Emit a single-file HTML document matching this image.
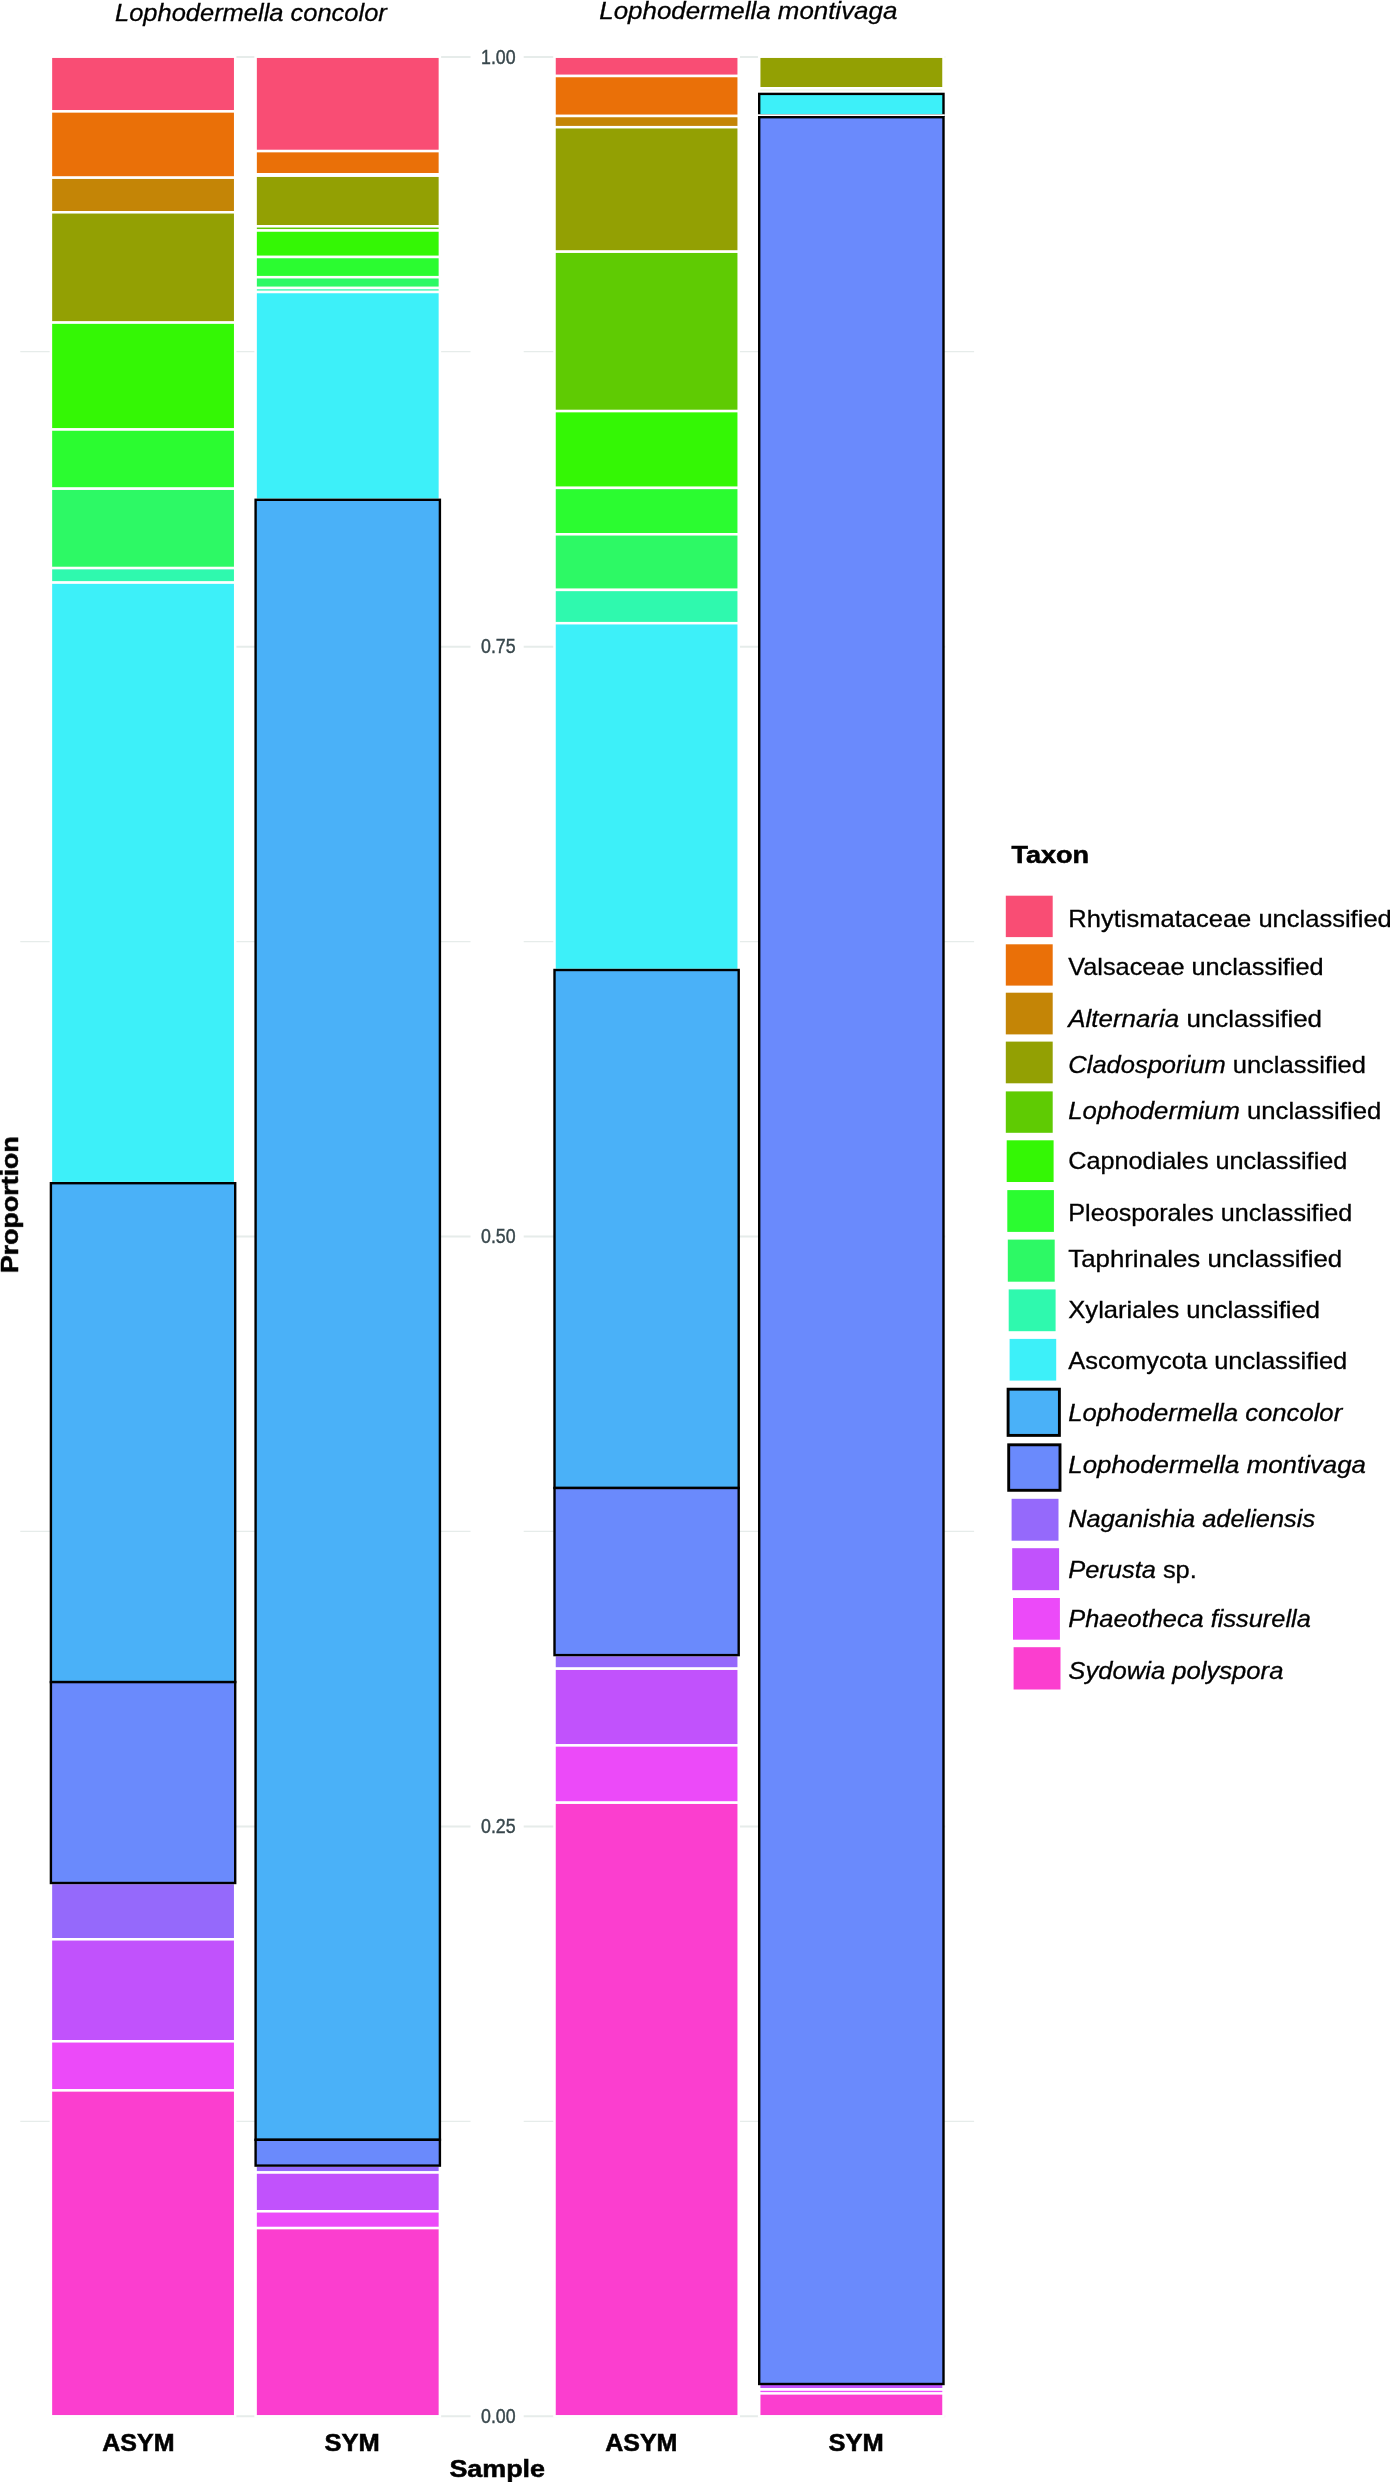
<!DOCTYPE html>
<html><head><meta charset="utf-8"><title>Taxon proportion chart</title>
<style>
html,body{margin:0;padding:0;background:#fff;}
body{width:1390px;height:2482px;overflow:hidden;font-family:"Liberation Sans",sans-serif;}
svg{display:block;}
</style></head><body>
<svg width="1390" height="2482" viewBox="0 0 1390 2482">
<rect width="1390" height="2482" fill="#fff"/>
<line x1="51.5" x2="470.5" y1="56.9" y2="56.9" stroke="#e6ecea" stroke-width="2"/>
<line x1="523.7" x2="945.2" y1="56.9" y2="56.9" stroke="#e6ecea" stroke-width="2"/>
<line x1="51.5" x2="470.5" y1="646.8" y2="646.8" stroke="#e6ecea" stroke-width="2"/>
<line x1="523.7" x2="945.2" y1="646.8" y2="646.8" stroke="#e6ecea" stroke-width="2"/>
<line x1="51.5" x2="470.5" y1="1236.6" y2="1236.6" stroke="#e6ecea" stroke-width="2"/>
<line x1="523.7" x2="945.2" y1="1236.6" y2="1236.6" stroke="#e6ecea" stroke-width="2"/>
<line x1="51.5" x2="470.5" y1="1826.5" y2="1826.5" stroke="#e6ecea" stroke-width="2"/>
<line x1="523.7" x2="945.2" y1="1826.5" y2="1826.5" stroke="#e6ecea" stroke-width="2"/>
<line x1="51.5" x2="470.5" y1="2416.3" y2="2416.3" stroke="#e6ecea" stroke-width="2"/>
<line x1="523.7" x2="945.2" y1="2416.3" y2="2416.3" stroke="#e6ecea" stroke-width="2"/>
<line x1="20.3" x2="470.5" y1="351.7" y2="351.7" stroke="#e6ecea" stroke-width="1.2"/>
<line x1="523.7" x2="974.1" y1="351.7" y2="351.7" stroke="#e6ecea" stroke-width="1.2"/>
<line x1="20.3" x2="470.5" y1="941.6" y2="941.6" stroke="#e6ecea" stroke-width="1.2"/>
<line x1="523.7" x2="974.1" y1="941.6" y2="941.6" stroke="#e6ecea" stroke-width="1.2"/>
<line x1="20.3" x2="470.5" y1="1531.4" y2="1531.4" stroke="#e6ecea" stroke-width="1.2"/>
<line x1="523.7" x2="974.1" y1="1531.4" y2="1531.4" stroke="#e6ecea" stroke-width="1.2"/>
<line x1="20.3" x2="470.5" y1="2121.3" y2="2121.3" stroke="#e6ecea" stroke-width="1.2"/>
<line x1="523.7" x2="974.1" y1="2121.3" y2="2121.3" stroke="#e6ecea" stroke-width="1.2"/>
<rect x="50.9" y="56.7" width="184.3" height="54.7" fill="#F94D74" stroke="#fff" stroke-width="2.5"/>
<rect x="50.9" y="111.4" width="184.3" height="66.3" fill="#EA7008" stroke="#fff" stroke-width="2.5"/>
<rect x="50.9" y="177.7" width="184.3" height="34.6" fill="#C48506" stroke="#fff" stroke-width="2.5"/>
<rect x="50.9" y="212.3" width="184.3" height="110.3" fill="#93A003" stroke="#fff" stroke-width="2.5"/>
<rect x="50.9" y="322.6" width="184.3" height="106.9" fill="#34F705" stroke="#fff" stroke-width="2.5"/>
<rect x="50.9" y="429.5" width="184.3" height="59.2" fill="#2BFC30" stroke="#fff" stroke-width="2.5"/>
<rect x="50.9" y="488.7" width="184.3" height="79.4" fill="#2DF965" stroke="#fff" stroke-width="2.5"/>
<rect x="50.9" y="568.1" width="184.3" height="14.5" fill="#2FF9AE" stroke="#fff" stroke-width="2.5"/>
<rect x="50.9" y="582.6" width="184.3" height="600.6" fill="#3DF0F9" stroke="#fff" stroke-width="2.5"/>
<rect x="50.9" y="1883.0" width="184.3" height="56.3" fill="#9569FB" stroke="#fff" stroke-width="2.5"/>
<rect x="50.9" y="1939.3" width="184.3" height="102.0" fill="#C152FC" stroke="#fff" stroke-width="2.5"/>
<rect x="50.9" y="2041.3" width="184.3" height="49.1" fill="#EC4AF9" stroke="#fff" stroke-width="2.5"/>
<rect x="50.9" y="2090.4" width="184.3" height="325.9" fill="#FB3ECF" stroke="#fff" stroke-width="2.5"/>
<rect x="255.6" y="56.7" width="184.3" height="94.4" fill="#F94D74" stroke="#fff" stroke-width="2.5"/>
<rect x="255.6" y="151.1" width="184.3" height="23.2" fill="#EA7008" stroke="#fff" stroke-width="2.5"/>
<rect x="255.6" y="174.3" width="184.3" height="1.4" fill="#C48506" stroke="#fff" stroke-width="2.5"/>
<rect x="255.6" y="175.7" width="184.3" height="50.6" fill="#93A003" stroke="#fff" stroke-width="2.5"/>
<rect x="255.6" y="226.3" width="184.3" height="4.2" fill="#5FCB03" stroke="#fff" stroke-width="2.5"/>
<rect x="255.6" y="230.5" width="184.3" height="26.5" fill="#34F705" stroke="#fff" stroke-width="2.5"/>
<rect x="255.6" y="257.0" width="184.3" height="20.2" fill="#2BFC30" stroke="#fff" stroke-width="2.5"/>
<rect x="255.6" y="277.2" width="184.3" height="10.8" fill="#2DF965" stroke="#fff" stroke-width="2.5"/>
<rect x="255.6" y="288.0" width="184.3" height="4.0" fill="#2FF9AE" stroke="#fff" stroke-width="2.5"/>
<rect x="255.6" y="292.0" width="184.3" height="207.8" fill="#3DF0F9" stroke="#fff" stroke-width="2.5"/>
<rect x="255.6" y="2165.6" width="184.3" height="6.9" fill="#9569FB" stroke="#fff" stroke-width="2.5"/>
<rect x="255.6" y="2172.5" width="184.3" height="38.8" fill="#C152FC" stroke="#fff" stroke-width="2.5"/>
<rect x="255.6" y="2211.3" width="184.3" height="16.8" fill="#EC4AF9" stroke="#fff" stroke-width="2.5"/>
<rect x="255.6" y="2228.1" width="184.3" height="188.2" fill="#FB3ECF" stroke="#fff" stroke-width="2.5"/>
<rect x="554.5" y="56.7" width="184.2" height="19.3" fill="#F94D74" stroke="#fff" stroke-width="2.5"/>
<rect x="554.5" y="76.0" width="184.2" height="40.0" fill="#EA7008" stroke="#fff" stroke-width="2.5"/>
<rect x="554.5" y="116.0" width="184.2" height="11.2" fill="#C48506" stroke="#fff" stroke-width="2.5"/>
<rect x="554.5" y="127.2" width="184.2" height="124.5" fill="#93A003" stroke="#fff" stroke-width="2.5"/>
<rect x="554.5" y="251.7" width="184.2" height="159.4" fill="#5FCB03" stroke="#fff" stroke-width="2.5"/>
<rect x="554.5" y="411.1" width="184.2" height="76.8" fill="#34F705" stroke="#fff" stroke-width="2.5"/>
<rect x="554.5" y="487.9" width="184.2" height="46.4" fill="#2BFC30" stroke="#fff" stroke-width="2.5"/>
<rect x="554.5" y="534.3" width="184.2" height="55.6" fill="#2DF965" stroke="#fff" stroke-width="2.5"/>
<rect x="554.5" y="589.9" width="184.2" height="33.3" fill="#2FF9AE" stroke="#fff" stroke-width="2.5"/>
<rect x="554.5" y="623.2" width="184.2" height="346.8" fill="#3DF0F9" stroke="#fff" stroke-width="2.5"/>
<rect x="554.5" y="1655.1" width="184.2" height="13.6" fill="#9569FB" stroke="#fff" stroke-width="2.5"/>
<rect x="554.5" y="1668.7" width="184.2" height="76.7" fill="#C152FC" stroke="#fff" stroke-width="2.5"/>
<rect x="554.5" y="1745.4" width="184.2" height="57.3" fill="#EC4AF9" stroke="#fff" stroke-width="2.5"/>
<rect x="554.5" y="1802.7" width="184.2" height="613.6" fill="#FB3ECF" stroke="#fff" stroke-width="2.5"/>
<rect x="759.2" y="56.7" width="184.3" height="31.6" fill="#93A003" stroke="#fff" stroke-width="2.5"/>
<rect x="759.2" y="88.3" width="184.3" height="2.3" fill="#5FCB03" stroke="#fff" stroke-width="2.5"/>
<rect x="759.2" y="2393.4" width="184.3" height="22.9" fill="#FB3ECF" stroke="#fff" stroke-width="2.5"/>
<rect x="759.2" y="93.9" width="184.3" height="21.4" fill="#3DF0F9" stroke="#000" stroke-width="2.4"/>
<line x1="757.9000000000001" x2="944.8" y1="115.2" y2="115.2" stroke="#fff" stroke-width="1.8"/>
<rect x="760.4000000000001" y="2384" width="181.9" height="4.0" fill="#C152FC"/>
<rect x="760.4000000000001" y="2390.8" width="181.9" height="1.3" fill="#EC4AF9"/>
<rect x="760.4000000000001" y="89.6" width="181.9" height="0.8" fill="#5FCB03" opacity="0.18"/>
<rect x="759.2" y="117.2" width="184.3" height="2266.8" fill="#6A8AFC" stroke="#000" stroke-width="2.4"/>
<rect x="50.9" y="1183.2" width="184.3" height="498.9" fill="#4AB1F8" stroke="#000" stroke-width="2.4"/>
<rect x="50.9" y="1682.1" width="184.3" height="200.9" fill="#6A8AFC" stroke="#000" stroke-width="2.4"/>
<rect x="255.6" y="499.8" width="184.3" height="1640.0" fill="#4AB1F8" stroke="#000" stroke-width="2.4"/>
<rect x="255.6" y="2139.8" width="184.3" height="25.8" fill="#6A8AFC" stroke="#000" stroke-width="2.4"/>
<rect x="554.5" y="970.0" width="184.2" height="518.0" fill="#4AB1F8" stroke="#000" stroke-width="2.4"/>
<rect x="554.5" y="1488.0" width="184.2" height="167.1" fill="#6A8AFC" stroke="#000" stroke-width="2.4"/>
<g opacity="0.999">
<text x="115.0" y="20.7" font-family="Liberation Sans, sans-serif" font-size="23.6" fill="#000" font-style="italic" stroke="#000" stroke-width="0.3" textLength="271.8" lengthAdjust="spacingAndGlyphs" >Lophodermella concolor</text>
<text x="599.3" y="18.7" font-family="Liberation Sans, sans-serif" font-size="23.6" fill="#000" font-style="italic" stroke="#000" stroke-width="0.3" textLength="298.0" lengthAdjust="spacingAndGlyphs" >Lophodermella montivaga</text>
<text x="481.0" y="63.5" font-family="Liberation Sans, sans-serif" font-size="19.3" fill="#38474c" textLength="34.6" lengthAdjust="spacingAndGlyphs" stroke="#38474c" stroke-width="0.4">1.00</text>
<text x="481.0" y="653.4" font-family="Liberation Sans, sans-serif" font-size="19.3" fill="#38474c" textLength="34.6" lengthAdjust="spacingAndGlyphs" stroke="#38474c" stroke-width="0.4">0.75</text>
<text x="481.0" y="1243.2" font-family="Liberation Sans, sans-serif" font-size="19.3" fill="#38474c" textLength="34.6" lengthAdjust="spacingAndGlyphs" stroke="#38474c" stroke-width="0.4">0.50</text>
<text x="481.0" y="1833.1" font-family="Liberation Sans, sans-serif" font-size="19.3" fill="#38474c" textLength="34.6" lengthAdjust="spacingAndGlyphs" stroke="#38474c" stroke-width="0.4">0.25</text>
<text x="481.0" y="2422.9" font-family="Liberation Sans, sans-serif" font-size="19.3" fill="#38474c" textLength="34.6" lengthAdjust="spacingAndGlyphs" stroke="#38474c" stroke-width="0.4">0.00</text>
<text x="102.3" y="2450.9" font-family="Liberation Sans, sans-serif" font-size="24.0" fill="#000" font-weight="bold" stroke="#000" stroke-width="0.55" textLength="72.2" lengthAdjust="spacingAndGlyphs" >ASYM</text>
<text x="324.6" y="2450.9" font-family="Liberation Sans, sans-serif" font-size="24.0" fill="#000" font-weight="bold" stroke="#000" stroke-width="0.55" textLength="55.2" lengthAdjust="spacingAndGlyphs" >SYM</text>
<text x="605.2" y="2451.1" font-family="Liberation Sans, sans-serif" font-size="24.0" fill="#000" font-weight="bold" stroke="#000" stroke-width="0.55" textLength="72.2" lengthAdjust="spacingAndGlyphs" >ASYM</text>
<text x="828.6" y="2451.1" font-family="Liberation Sans, sans-serif" font-size="24.0" fill="#000" font-weight="bold" stroke="#000" stroke-width="0.55" textLength="55.2" lengthAdjust="spacingAndGlyphs" >SYM</text>
<text x="449.4" y="2476.8" font-family="Liberation Sans, sans-serif" font-size="24.0" fill="#000" font-weight="bold" stroke="#000" stroke-width="0.55" textLength="95.6" lengthAdjust="spacingAndGlyphs" >Sample</text>
<text transform="translate(18.0,1273.1) rotate(-90)" font-family="Liberation Sans, sans-serif" font-size="24.0" font-weight="bold" stroke="#000" stroke-width="0.55" textLength="136.8" lengthAdjust="spacingAndGlyphs">Proportion</text>
<text x="1011.4" y="863.2" font-family="Liberation Sans, sans-serif" font-size="24.0" fill="#000" font-weight="bold" stroke="#000" stroke-width="0.55" textLength="77.6" lengthAdjust="spacingAndGlyphs" >Taxon</text>
<rect x="1005.8" y="895.7" width="46.9" height="41.4" fill="#F94D74"/>
<text x="1068.3" y="926.5" font-family="Liberation Sans, sans-serif" font-size="23.6" fill="#000" stroke="#000" stroke-width="0.3" textLength="323.5" lengthAdjust="spacingAndGlyphs" >Rhytismataceae unclassified</text>
<rect x="1005.8" y="944.3" width="46.9" height="41.3" fill="#EA7008"/>
<text x="1068.3" y="975.4" font-family="Liberation Sans, sans-serif" font-size="23.6" fill="#000" stroke="#000" stroke-width="0.3" textLength="255.2" lengthAdjust="spacingAndGlyphs" >Valsaceae unclassified</text>
<rect x="1005.8" y="992.7" width="46.9" height="41.7" fill="#C48506"/>
<text x="1068.3" y="1026.9" font-family="Liberation Sans, sans-serif" font-size="23.6" fill="#000" stroke="#000" stroke-width="0.3" textLength="253.7" lengthAdjust="spacingAndGlyphs" ><tspan font-style='italic'>Alternaria</tspan> unclassified</text>
<rect x="1005.8" y="1041.6" width="46.9" height="41.7" fill="#93A003"/>
<text x="1068.3" y="1072.8" font-family="Liberation Sans, sans-serif" font-size="23.6" fill="#000" stroke="#000" stroke-width="0.3" textLength="297.7" lengthAdjust="spacingAndGlyphs" ><tspan font-style='italic'>Cladosporium</tspan> unclassified</text>
<rect x="1005.8" y="1091.4" width="46.9" height="41.4" fill="#5FCB03"/>
<text x="1068.3" y="1118.6" font-family="Liberation Sans, sans-serif" font-size="23.6" fill="#000" stroke="#000" stroke-width="0.3" textLength="313.0" lengthAdjust="spacingAndGlyphs" ><tspan font-style='italic'>Lophodermium</tspan> unclassified</text>
<rect x="1006.7" y="1140.3" width="46.9" height="41.7" fill="#34F705"/>
<text x="1068.3" y="1169.1" font-family="Liberation Sans, sans-serif" font-size="23.6" fill="#000" stroke="#000" stroke-width="0.3" textLength="279.0" lengthAdjust="spacingAndGlyphs" >Capnodiales unclassified</text>
<rect x="1007.3" y="1190.1" width="46.6" height="41.8" fill="#2BFC30"/>
<text x="1068.3" y="1221.2" font-family="Liberation Sans, sans-serif" font-size="23.6" fill="#000" stroke="#000" stroke-width="0.3" textLength="283.9" lengthAdjust="spacingAndGlyphs" >Pleosporales unclassified</text>
<rect x="1007.8" y="1239.6" width="46.9" height="42.1" fill="#2DF965"/>
<text x="1068.3" y="1267.0" font-family="Liberation Sans, sans-serif" font-size="23.6" fill="#000" stroke="#000" stroke-width="0.3" textLength="273.9" lengthAdjust="spacingAndGlyphs" >Taphrinales unclassified</text>
<rect x="1008.7" y="1289.4" width="46.9" height="41.8" fill="#2FF9AE"/>
<text x="1068.3" y="1318.2" font-family="Liberation Sans, sans-serif" font-size="23.6" fill="#000" stroke="#000" stroke-width="0.3" textLength="251.7" lengthAdjust="spacingAndGlyphs" >Xylariales unclassified</text>
<rect x="1009.6" y="1338.9" width="46.6" height="41.7" fill="#3DF0F9"/>
<text x="1068.3" y="1369.4" font-family="Liberation Sans, sans-serif" font-size="23.6" fill="#000" stroke="#000" stroke-width="0.3" textLength="279.0" lengthAdjust="spacingAndGlyphs" >Ascomycota unclassified</text>
<rect x="1008.1" y="1389.2" width="51.3" height="46.2" fill="#4AB1F8" stroke="#000" stroke-width="2.9"/>
<text x="1068.3" y="1421.2" font-family="Liberation Sans, sans-serif" font-size="23.6" fill="#000" stroke="#000" stroke-width="0.3" textLength="273.9" lengthAdjust="spacingAndGlyphs" ><tspan font-style='italic'>Lophodermella concolor</tspan></text>
<rect x="1008.7" y="1444.8" width="51.3" height="45.5" fill="#6A8AFC" stroke="#000" stroke-width="2.9"/>
<text x="1068.3" y="1472.7" font-family="Liberation Sans, sans-serif" font-size="23.6" fill="#000" stroke="#000" stroke-width="0.3" textLength="297.7" lengthAdjust="spacingAndGlyphs" ><tspan font-style='italic'>Lophodermella montivaga</tspan></text>
<rect x="1011.6" y="1498.8" width="46.9" height="41.9" fill="#9569FB"/>
<text x="1068.3" y="1526.9" font-family="Liberation Sans, sans-serif" font-size="23.6" fill="#000" stroke="#000" stroke-width="0.3" textLength="246.8" lengthAdjust="spacingAndGlyphs" ><tspan font-style='italic'>Naganishia adeliensis</tspan></text>
<rect x="1012.2" y="1548.2" width="46.9" height="42.0" fill="#C152FC"/>
<text x="1068.3" y="1578.4" font-family="Liberation Sans, sans-serif" font-size="23.6" fill="#000" stroke="#000" stroke-width="0.3" textLength="128.5" lengthAdjust="spacingAndGlyphs" ><tspan font-style='italic'>Perusta</tspan> sp.</text>
<rect x="1013.0" y="1598.0" width="46.9" height="41.7" fill="#EC4AF9"/>
<text x="1068.3" y="1627.3" font-family="Liberation Sans, sans-serif" font-size="23.6" fill="#000" stroke="#000" stroke-width="0.3" textLength="242.5" lengthAdjust="spacingAndGlyphs" ><tspan font-style='italic'>Phaeotheca fissurella</tspan></text>
<rect x="1013.6" y="1647.2" width="46.9" height="42.3" fill="#FB3ECF"/>
<text x="1068.3" y="1678.6" font-family="Liberation Sans, sans-serif" font-size="23.6" fill="#000" stroke="#000" stroke-width="0.3" textLength="215.1" lengthAdjust="spacingAndGlyphs" ><tspan font-style='italic'>Sydowia polyspora</tspan></text>
</g>
</svg>
</body></html>
